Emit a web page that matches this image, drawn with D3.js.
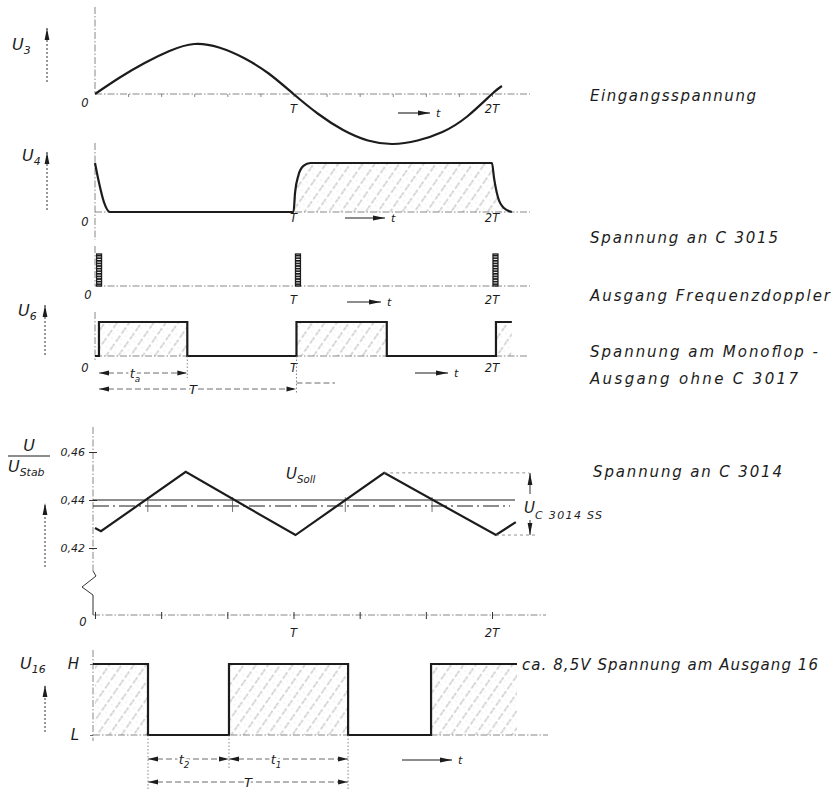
<!DOCTYPE html>
<html><head><meta charset="utf-8">
<script src="https://cdnjs.cloudflare.com/ajax/libs/d3/7.8.5/d3.min.js"></script>
<style>
body{margin:0;background:#fff}
svg{display:block}
text{font-family:"DejaVu Sans",sans-serif;font-style:oblique;fill:#1c1c1c}
</style></head>
<body><svg id="c" width="834" height="791"></svg>
<script>
// ---------------- data ----------------
const timeLabels = ["0", "T", "2T"];
// U3: input voltage (t in T, value relative to amplitude)
const u3Points = [[0,0],[0.125,0.33],[0.25,0.62],[0.375,0.86],[0.5,1.0],[0.625,0.93],[0.75,0.72],[0.875,0.41],[1.0,0],[1.125,-0.4],[1.25,-0.72],[1.375,-0.93],[1.5,-1.0],[1.625,-0.93],[1.75,-0.76],[1.875,-0.45],[2.0,0],[2.05,0.16]];
// U4: voltage on C 3015
const u4Points = [[0,1.0],[0.02,0.6],[0.045,0.2],[0.075,0],[1.0,0],[1.008,0.4],[1.025,0.75],[1.05,0.94],[1.085,1.0],[2.0,1.0],[2.01,0.7],[2.03,0.3],[2.06,0.08],[2.1,0]];
// frequency doubler pulses [start, end]
const fdPulses = [[0.008,0.033],[1.01,1.035],[2.005,2.03]];
// U6 monoflop levels (step after)
const u6Levels = [[0,0],[0.02,1],[0.465,0],[1.015,1],[1.47,0],[2.02,1],[2.1,1]];
// U/UStab triangle
const triPoints = [[0,0.4283],[0.03,0.427],[0.457,0.4517],[1.01,0.4254],[1.457,0.4513],[2.02,0.4254],[2.12,0.4308]];
const sollLevel = 0.44;
const meanLevel = 0.4375;
const stabTicks = [0.42, 0.44, 0.46];
const crossTicks = [0.266, 0.693, 1.261, 1.698];
// U16 output levels
const u16Levels = [[0,"H"],[0.267,"L"],[0.675,"H"],[1.275,"L"],[1.693,"H"],[2.126,"H"]];
const levelNames = ["L", "H"];
const rightTexts = ["Eingangsspannung","Spannung an C 3015","Ausgang Frequenzdoppler","Spannung am Monoflop -","Ausgang ohne C 3017","Spannung an C 3014","ca. 8,5V Spannung am Ausgang 16"];

// ---------------- setup ----------------
const svg = d3.select("#c");
const INK = "#1c1c1c", AX = "#6a6a6a";
const defs = svg.append("defs");
defs.append("marker").attr("id","ah").attr("viewBox","0 0 12 6").attr("refX",12).attr("refY",3)
  .attr("markerWidth",12).attr("markerHeight",6).attr("markerUnits","userSpaceOnUse")
  .attr("orient","auto-start-reverse")
  .append("path").attr("d","M0,0.6 L12,3 L0,5.4 Z").attr("fill",INK);
defs.append("marker").attr("id","ahs").attr("viewBox","0 0 10 6").attr("refX",10).attr("refY",3)
  .attr("markerWidth",10).attr("markerHeight",6).attr("markerUnits","userSpaceOnUse")
  .attr("orient","auto-start-reverse")
  .append("path").attr("d","M0,0.5 L10,3 L0,5.5 Z").attr("fill",INK);
const hp = defs.append("pattern").attr("id","hatch").attr("patternUnits","userSpaceOnUse")
  .attr("width",10).attr("height",10).attr("patternTransform","rotate(35)");
hp.append("line").attr("x1",1).attr("y1",0).attr("x2",1).attr("y2",10)
  .attr("stroke","#8c8c8c").attr("stroke-width",0.7).attr("stroke-dasharray","3.5,2.5");
hp.append("circle").attr("cx",6).attr("cy",3).attr("r",0.45).attr("fill","#b0b0b0");
hp.append("circle").attr("cx",4).attr("cy",8).attr("r",0.4).attr("fill","#c0c0c0");
const lp = defs.append("pattern").attr("id","ladder").attr("patternUnits","userSpaceOnUse")
  .attr("width",6).attr("height",2.6);
lp.append("rect").attr("width",6).attr("height",1.6).attr("fill","#111");

const x = d3.scaleLinear().domain([0,2]).range([95, 492]);

function ln(x1,y1,x2,y2,o={}){
  return svg.append("line").attr("x1",x1).attr("y1",y1).attr("x2",x2).attr("y2",y2)
    .attr("stroke",o.c||AX).attr("stroke-width",o.w||0.8)
    .attr("stroke-dasharray",o.d===undefined?"7,2,1.5,2":o.d)
    .attr("marker-end",o.me||null).attr("marker-start",o.ms||null);
}
function label(xp,y,main,sub,size,o={}){
  const t = svg.append("text").attr("x",xp).attr("y",y).attr("font-size",size)
    .attr("text-anchor",o.anchor||"start");
  t.append("tspan").text(main);
  if(sub) t.append("tspan").attr("font-size",size*0.68).attr("dy",size*0.28).text(sub);
  if(o.halo) t.attr("stroke","#fff").attr("stroke-width",4).attr("paint-order","stroke");
  return t;
}
function vArrow(xp,y1,y2){ ln(xp,y1,xp,y2,{c:INK,w:0.9,d:"2,2",me:"url(#ah)"}); }
function tArrow(x1,len,y){
  ln(x1,y,x1+len,y,{c:INK,w:1.1,d:"",me:"url(#ah)"});
  label(x1+len+6,y+4,"t",null,11);
}
function timeLabelsAt(ys, dx0){
  timeLabels.forEach((s,i)=>{
    label(x(i)+(i===0?(dx0||-10):0), ys[i], s, null, 11.5, {anchor:"middle"});
  });
}
function dim(t1,t2,y,main,sub,lx){
  ln(x(t1),y,x(t2),y,{c:"#444",w:0.8,d:"6,3",ms:"url(#ahs)",me:"url(#ahs)"});
  label(lx===undefined?(x(t1)+x(t2))/2:lx, y+5, main, sub, 13, {anchor:"middle",halo:true});
}

// ---------------- U3 ----------------
const yU3 = d3.scaleLinear().domain([-1,1]).range([144,44]);
ln(x(0),7,x(0),yU3(0));
ln(x(0),yU3(0),530,yU3(0));
svg.append("g").attr("transform",`translate(0,${yU3(0)})`)
  .call(d3.axisBottom(x).tickValues(d3.range(1,13).map(k=>k/6)).tickSize(3).tickFormat(""))
  .call(g=>{g.select(".domain").remove();g.selectAll("line").attr("stroke",AX).attr("stroke-width",0.8);});
svg.append("path").datum(u3Points)
  .attr("d",d3.line().x(d=>x(d[0])).y(d=>yU3(d[1])).curve(d3.curveNatural))
  .attr("fill","none").attr("stroke",INK).attr("stroke-width",2.2);
timeLabelsAt([107,113,113]);
tArrow(398,32,113);
label(12,50,"U","3",16);
vArrow(47,82,28);

// ---------------- U4 ----------------
const yU4 = d3.scaleLinear().domain([0,1]).range([212,163]);
ln(x(0),143,x(0),240);
const u4Hatch = u4Points.filter(d=>d[0]>=1.0);
svg.append("path").datum(u4Hatch)
  .attr("d",d3.area().x(d=>x(d[0])).y0(yU4(0)).y1(d=>yU4(d[1])).curve(d3.curveMonotoneX))
  .attr("fill","url(#hatch)");
ln(x(0),yU4(0),530,yU4(0));
svg.append("path").datum(u4Points)
  .attr("d",d3.line().x(d=>x(d[0])).y(d=>yU4(d[1])).curve(d3.curveMonotoneX))
  .attr("fill","none").attr("stroke",INK).attr("stroke-width",2.2);
timeLabelsAt([226,222,222]);
tArrow(345,40,218);
label(22,161,"U","4",16);
vArrow(47,210,152);

// ---------------- frequency doubler ----------------
const yFD = d3.scaleLinear().domain([0,1]).range([286,254]);
ln(x(0),246,x(0),yFD(0));
ln(x(0),yFD(0),530,yFD(0));
svg.selectAll("rect.fd").data(fdPulses).enter().append("rect").attr("class","fd")
  .attr("x",d=>x(d[0])).attr("width",d=>x(d[1])-x(d[0]))
  .attr("y",yFD(1)).attr("height",yFD(0)-yFD(1))
  .attr("fill","url(#ladder)").attr("stroke",INK).attr("stroke-width",1.3);
timeLabelsAt([299,304,304],-7);
tArrow(347,34,302);

// ---------------- U6 ----------------
const yU6 = d3.scaleLinear().domain([0,1]).range([356,322]);
ln(x(0),312,x(0),yU6(0)+4);
const u6Rects = [];
u6Levels.forEach((d,i)=>{ if(d[1]===1 && i<u6Levels.length-1) u6Rects.push([d[0],u6Levels[i+1][0]]); });
svg.selectAll("rect.u6").data(u6Rects).enter().append("rect").attr("class","u6")
  .attr("x",d=>x(d[0])).attr("width",d=>x(d[1])-x(d[0]))
  .attr("y",yU6(1)).attr("height",yU6(0)-yU6(1)).attr("fill","url(#hatch)");
ln(x(0),yU6(0),528,yU6(0));
svg.append("path").datum(u6Levels)
  .attr("d",d3.line().x(d=>x(d[0])).y(d=>yU6(d[1])).curve(d3.curveStepAfter))
  .attr("fill","none").attr("stroke",INK).attr("stroke-width",2.2);
timeLabelsAt([372,372,372],-10);
tArrow(415,33,373);
label(18,316,"U","6",16);
vArrow(45,355,305);
// dimensions
ln(x(u6Levels[2][0]),yU6(0),x(u6Levels[2][0]),378,{d:"1.5,2"});
ln(x(u6Levels[3][0]),yU6(0),x(u6Levels[3][0]),394,{d:"1.5,2"});
ln(x(u6Levels[3][0]),383,335,383,{c:"#444",d:"6,3"});
dim(u6Levels[1][0],u6Levels[2][0],373,"t","a",135);
dim(u6Levels[1][0],u6Levels[3][0],389,"T",null,193);

// ---------------- U/UStab ----------------
const yS = d3.scaleLinear().domain([0.42,0.46]).range([548,452]);
const yZero = 615, AXS = 93;
ln(AXS,427,AXS,571);
svg.append("path").attr("d",d3.line()([[AXS,571],[AXS+3,576],[AXS-11,587],[AXS,595],[AXS,yZero]]))
  .attr("fill","none").attr("stroke",INK).attr("stroke-width",0.9);
svg.append("g").attr("transform",`translate(${AXS},0)`)
  .call(d3.axisLeft(yS).tickValues(stabTicks).tickSize(4).tickPadding(4)
    .tickFormat(d=>d.toFixed(2).replace(".",",")))
  .call(g=>{
    g.select(".domain").remove();
    g.selectAll("line").attr("x1",4).attr("x2",-4).attr("stroke",INK).attr("stroke-width",0.9);
    g.selectAll("text").attr("font-size",11).attr("font-family","DejaVu Sans").attr("font-style","oblique").attr("fill",INK);
  });
// reference lines
ln(AXS,yS(sollLevel),515,yS(sollLevel),{c:INK,w:1,d:""});
ln(AXS,yS(meanLevel),510,yS(meanLevel),{c:INK,w:1.1,d:"16,4,2,4"});
crossTicks.forEach(t=>ln(x(t),yS(sollLevel)-3,x(t),yS(meanLevel)+6,{c:"#555",w:0.8,d:""}));
// triangle
svg.append("path").datum(triPoints)
  .attr("d",d3.line().x(d=>x(d[0])).y(d=>yS(d[1])))
  .attr("fill","none").attr("stroke",INK).attr("stroke-width",2.2);
// peak-to-peak
const pk = triPoints[4], vl = triPoints[5];
ln(x(pk[0]),yS(pk[1]),529,yS(pk[1]),{c:"#777",w:0.8,d:"3,3"});
ln(x(vl[0]),yS(vl[1]),536,yS(vl[1]),{c:"#777",w:0.8,d:"3,3"});
ln(530,494,530,yS(pk[1]),{c:INK,w:0.9,d:"",me:"url(#ah)"});
ln(530,520,530,yS(vl[1]),{c:INK,w:0.9,d:"",me:"url(#ah)"});
label(524,513,"U",null,15);
svg.append("text").attr("x",535).attr("y",519).attr("font-size",11).attr("textLength",67)
  .attr("lengthAdjust","spacing").text("C 3014 SS");
label(286,479,"U","Soll",15);
// zero line
ln(AXS,yZero,546,yZero);
svg.append("g").attr("transform",`translate(0,${yZero})`)
  .call(d3.axisBottom(x).tickValues(d3.range(0,7).map(k=>k/3)).tickSize(6).tickFormat(""))
  .call(g=>{g.select(".domain").remove();g.selectAll("line").attr("y1",-3).attr("y2",4).attr("stroke",INK).attr("stroke-width",0.9);});
timeLabelsAt([626,637,637],-12);
// fraction label
label(29,451,"U",null,16,{anchor:"middle"});
ln(8,456,50,456,{c:INK,w:1.1,d:""});
label(8,472,"U","Stab",16);
vArrow(45,567,503);

// ---------------- U16 ----------------
const yL = d3.scalePoint().domain(levelNames).range([735,664]);
const u16Rects = [];
u16Levels.forEach((d,i)=>{ if(d[1]==="H" && i<u16Levels.length-1) u16Rects.push([d[0],u16Levels[i+1][0]]); });
svg.selectAll("rect.u16").data(u16Rects).enter().append("rect").attr("class","u16")
  .attr("x",d=>x(d[0])).attr("width",d=>x(d[1])-x(d[0]))
  .attr("y",yL("H")).attr("height",yL("L")-yL("H")).attr("fill","url(#hatch)");
ln(AXS,650,AXS,yL("L")+6);
ln(AXS,yL("L"),548,yL("L"));
svg.append("path").datum(u16Levels)
  .attr("d",d3.line().x(d=>x(d[0])).y(d=>yL(d[1])).curve(d3.curveStepAfter))
  .attr("fill","none").attr("stroke",INK).attr("stroke-width",2.2);
ln(AXS,yL("H"),x(0),yL("H"),{c:INK,w:2.2,d:""});
svg.append("g").attr("transform",`translate(${AXS},0)`)
  .call(d3.axisLeft(yL).tickSize(3).tickPadding(11))
  .call(g=>{
    g.select(".domain").remove();
    g.selectAll("line").attr("stroke",AX);
    g.selectAll("text").attr("font-size",15).attr("font-family","DejaVu Sans").attr("font-style","oblique").attr("fill",INK);
  });
label(20,669,"U","16",16);
vArrow(45,732,685);
[u16Levels[1][0],u16Levels[2][0],u16Levels[3][0]].forEach((t,i)=>
  ln(x(t),yL("L"),x(t),i===1?768:790,{d:"1.5,2"}));
dim(u16Levels[1][0],u16Levels[2][0],759,"t","2",184);
dim(u16Levels[2][0],u16Levels[3][0],759,"t","1",276);
dim(u16Levels[1][0],u16Levels[3][0],782,"T",null,248);
tArrow(402,50,760);

// ---------------- right texts ----------------
const rt = [
  {x:590,y:101,w:166},{x:590,y:243,w:188},{x:590,y:301,w:240},
  {x:590,y:357,w:228},{x:590,y:384,w:208},{x:593,y:477,w:189},{x:522,y:670,w:296}
];
rightTexts.forEach((s,i)=>{
  svg.append("text").attr("x",rt[i].x).attr("y",rt[i].y).attr("font-size",15)
    .attr("textLength",rt[i].w).attr("lengthAdjust","spacing").text(s);
});
</script></body></html>
